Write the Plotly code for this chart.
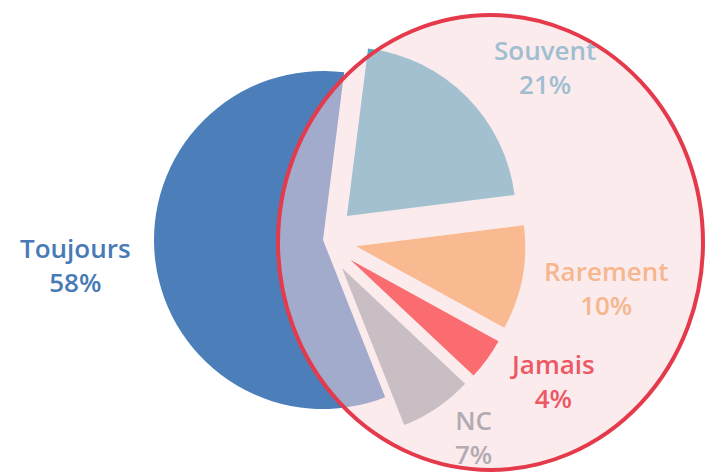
import plotly.graph_objects as go

W, H = 706, 473

categories = ["Toujours", "Souvent", "Rarement", "Jamais", "NC"]
values = [58, 21, 10, 4, 7]
pulls = [0, 0.2, 0.2, 0.2, 0.2]
slice_colors = ["rgb(76,126,186)", "rgb(77,169,196)", "rgb(251,155,70)",
                "rgb(255,0,4)", "rgb(153,165,172)"]
label_colors = ["rgb(72,122,182)", "rgb(160,190,208)", "rgb(246,182,142)",
                "rgb(236,88,100)", "rgb(178,172,178)"]
label_pos_px = [(75, 265), (545, 67), (606, 288), (552, 381), (473, 437)]

# pie geometry (pixels)
cx, cy, r = 323, 240, 169
half = r * (1 + max(pulls))

fig = go.Figure()
fig.add_trace(go.Pie(
    labels=categories, values=values, sort=False, direction="clockwise",
    rotation=158.4, pull=pulls, textinfo="none", hoverinfo="label+percent",
    marker=dict(colors=slice_colors, line=dict(width=0)),
    domain=dict(x=[(cx - half) / W, (cx + half) / W],
                y=[(H - cy - half) / H, (H - cy + half) / H]),
    showlegend=False,
))

# translucent highlight ellipse
fig.add_shape(type="circle", xref="paper", yref="paper",
              x0=278 / W, x1=703 / W, y0=(H - 470) / H, y1=(H - 15) / H,
              line=dict(color="rgb(228,58,75)", width=4),
              fillcolor="rgba(247,215,220,0.5)", layer="above")

for cat, v, col, (px, py) in zip(categories, values, label_colors, label_pos_px):
    fig.add_annotation(
        x=px / W, y=(H - py) / H, xref="paper", yref="paper",
        text=f"{cat}<br>{v}%", showarrow=False, align="center",
        font=dict(family="Open Sans", size=26, color=col, weight=600),
        xanchor="center", yanchor="middle",
    )

fig.update_layout(width=W, height=H, margin=dict(l=0, r=0, t=0, b=0),
                  paper_bgcolor="white", plot_bgcolor="white")
fig.write_html("out.html", config={"displayModeBar": False},
               post_script="document.body.style.margin='0';"
                           "document.body.style.overflow='hidden';")
